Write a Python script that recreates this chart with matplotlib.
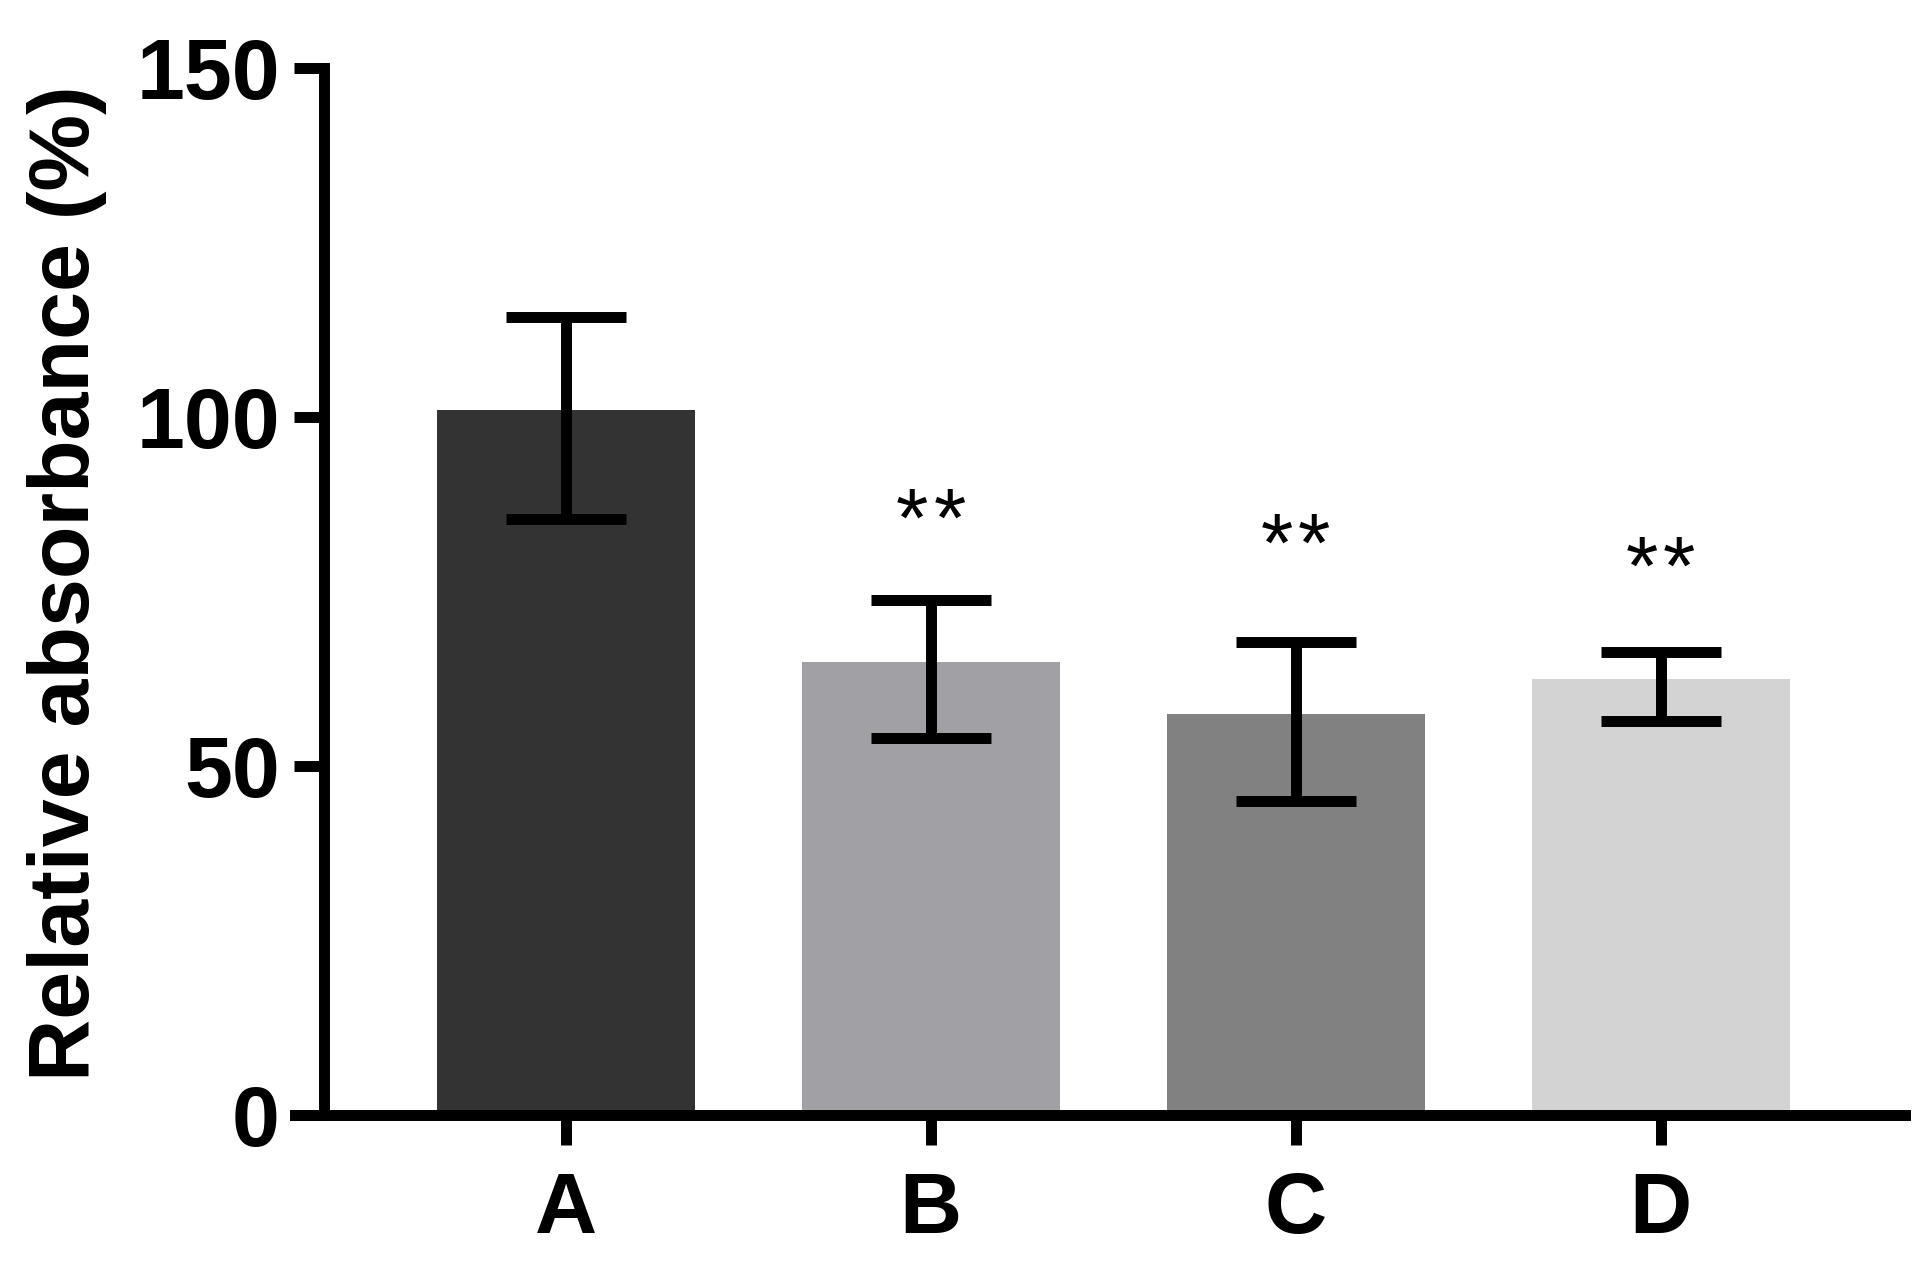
import numpy as np
from matplotlib import pyplot as plt

# values
groups = ['A', 'B', 'C', 'D']
means = [101.0, 64.9, 57.4, 62.5]
err_low = [15.6, 10.9, 12.4, 6.1]
err_high = [13.3, 8.9, 10.4, 3.8]
colors = ['#333333', '#a1a1a5', '#818181', '#d3d3d3']
n_stars = [0, 2, 2, 2]
star_y = [0, 84.6, 81.0, 77.7]

plt.rcParams['font.family'] = ['Liberation Sans', 'DejaVu Sans']

fig = plt.figure(figsize=(19.16, 12.73), dpi=100)
ax = fig.add_axes([295 / 1916, 1 - 1115 / 1273, (1905 - 295) / 1916, (1115 - 68) / 1273])

x = np.arange(len(groups))
lw = 7.9
ax.bar(x, means, width=0.707, color=colors, zorder=2)
ax.errorbar(x, means, yerr=[err_low, err_high], fmt='none', ecolor='black',
            elinewidth=lw, capsize=43, capthick=lw, zorder=3, clip_on=False)

# significance stars, drawn one by one so they sit a bit apart
for xi, n, yy in zip(x, n_stars, star_y):
    for k in range(n):
        off = (k - (n - 1) / 2) * 27
        ax.annotate('*', (xi, yy), xytext=(off, 0), textcoords='offset points',
                    ha='center', va='center', fontsize=60, color='black')

ax.set_xlim(-0.742, 3.67)
ax.set_ylim(0, 150)
ax.set_yticks([0, 50, 100, 150])
ax.set_xticks(x)
ax.set_xticklabels(groups)

for side in ['top', 'right']:
    ax.spines[side].set_visible(False)
ax.spines['left'].set_position(('data', -0.663))
ax.spines['left'].set_linewidth(lw)
ax.spines['bottom'].set_linewidth(lw)
ax.spines['left'].set_capstyle('projecting')

ax.tick_params(axis='both', length=21.6, width=lw, labelsize=62)
ax.tick_params(axis='y', pad=10)
ax.tick_params(axis='x', pad=19)
for lab in ax.get_xticklabels() + ax.get_yticklabels():
    lab.set_fontweight('bold')

ax.set_ylabel('Relative absorbance (%)', fontsize=62, fontweight='bold', labelpad=21)
ax.yaxis.label.set_y(0.508)

fig.savefig('out.png', dpi=100)
